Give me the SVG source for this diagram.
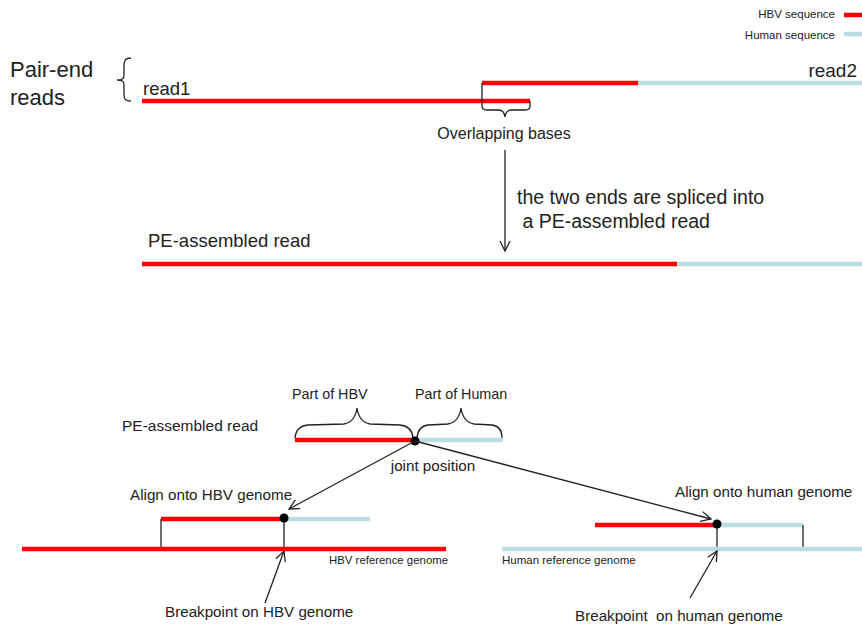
<svg xmlns="http://www.w3.org/2000/svg" width="862" height="627" viewBox="0 0 862 627">
<style>
text{font-family:"Liberation Sans",Arial,sans-serif;fill:#222}
.r{stroke:#FF0000;stroke-width:4.5;fill:none}
.b{stroke:#B9DDE2;stroke-width:4.5;fill:none}
.k{stroke:#222;stroke-width:1.3;fill:none}
</style>
<defs>
<marker id="ah" viewBox="0 0 12 12" refX="11" refY="6" markerWidth="12" markerHeight="12" markerUnits="userSpaceOnUse" orient="auto">
<path d="M1,1 L11,6 L1,11" fill="none" stroke="#222" stroke-width="1.3"/>
</marker>
</defs>
<rect width="862" height="627" fill="#fff"/>
<g id="legend">
<text x="835" y="18" font-size="11.5" text-anchor="end">HBV sequence</text>
<line class="r" x1="844" y1="15" x2="862" y2="15"/>
<text x="835" y="39" font-size="11.5" text-anchor="end">Human sequence</text>
<line class="b" x1="844" y1="34" x2="862" y2="34"/>
</g>
<g id="pair-end">
<text x="10" y="77" font-size="22">Pair-end</text>
<text x="10" y="105" font-size="22">reads</text>
<path class="k" d="M131,58 C124,58 124,62 124,68 L124,75 C124,79 122,80 117,80 C122,80 124,81 124,85 L124,92 C124,98 124,101 131,101"/>
</g>
<g id="read1">
<text x="143" y="95" font-size="18.5">read1</text>
<line class="r" x1="142" y1="101" x2="530" y2="101"/>
</g>
<g id="read2">
<text x="857" y="77" font-size="19" text-anchor="end">read2</text>
<line class="r" x1="482" y1="83" x2="638" y2="83"/>
<line class="b" x1="638" y1="83" x2="862" y2="83"/>
</g>
<g id="overlap">
<path class="k" d="M482,83 L482,106 Q482,110 487,110 L499,110 Q504,110 505,117 Q506,110 511,110 L525,110 Q530,110 530,106 L530,101"/>
<text x="504" y="139" font-size="16" text-anchor="middle">Overlapping bases</text>
</g>
<g id="splice-label">
<text x="517" y="204" font-size="19.5">the two ends are spliced into</text>
<text x="517" y="228" font-size="19.5" xml:space="preserve"> a PE-assembled read</text>
</g>
<g id="pe-read">
<text x="148" y="247" font-size="18.5">PE-assembled read</text>
<line class="r" x1="142" y1="264" x2="677" y2="264"/>
<line class="b" x1="677" y1="264" x2="862" y2="264"/>
</g>
<g id="pe-read-2">
<text x="122" y="431" font-size="15.5">PE-assembled read</text>
<text x="292" y="399" font-size="14.3">Part of HBV</text>
<text x="415" y="399" font-size="14.3">Part of Human</text>
<path class="k" d="M295,438 Q296,426 308,425 L344,424 Q355,422 357,408 Q359,422 370,424 L400,425 Q412,426 413,438"/>
<path class="k" d="M417,438 Q418,426 428,425 L448,424 Q459,422 461,408 Q463,422 474,424 L492,425 Q502,426 502,438"/>
<line class="r" x1="295" y1="440" x2="415" y2="440"/>
<line class="b" x1="415" y1="440" x2="503" y2="440"/>
<circle cx="415" cy="441" r="4.5" fill="#000"/>
<text x="433" y="471" font-size="15.2" text-anchor="middle">joint position</text>
</g>
<g id="hbv-align">
<text x="130" y="500" font-size="15.2">Align onto HBV genome</text>
<line class="r" x1="161" y1="519" x2="284" y2="519"/>
<line class="b" x1="284" y1="519" x2="370" y2="519"/>
<line class="k" x1="161" y1="519" x2="161" y2="548"/>
<line class="k" x1="284" y1="519" x2="284" y2="548"/>
<circle cx="284" cy="518" r="4.5" fill="#000"/>
<line class="r" x1="22" y1="549" x2="446" y2="549"/>
<text x="329" y="564" font-size="11.4">HBV reference genome</text>
<text x="165" y="617" font-size="15.2">Breakpoint on HBV genome</text>
</g>
<g id="human-align">
<text x="675" y="497" font-size="15.2">Align onto human genome</text>
<line class="r" x1="595" y1="525" x2="717" y2="525"/>
<line class="b" x1="717" y1="525" x2="803" y2="525"/>
<line class="k" x1="717" y1="525" x2="717" y2="547"/>
<line class="k" x1="803" y1="525" x2="803" y2="547"/>
<circle cx="717" cy="524" r="4.5" fill="#000"/>
<line class="b" x1="502" y1="549" x2="862" y2="549"/>
<text x="502" y="564" font-size="11.5">Human reference genome</text>
<text x="575" y="621" font-size="15.2" xml:space="preserve">Breakpoint  on human genome</text>
</g>
<g id="connectors">
<line class="k" x1="505" y1="150" x2="505" y2="251" marker-end="url(#ah)"/>
<line class="k" x1="415" y1="441" x2="289" y2="509" marker-end="url(#ah)"/>
<line class="k" x1="415" y1="441" x2="711" y2="519" marker-end="url(#ah)"/>
<line class="k" x1="265" y1="603" x2="284" y2="551" marker-end="url(#ah)"/>
<line class="k" x1="690" y1="598" x2="717" y2="551" marker-end="url(#ah)"/>
</g>
</svg>
